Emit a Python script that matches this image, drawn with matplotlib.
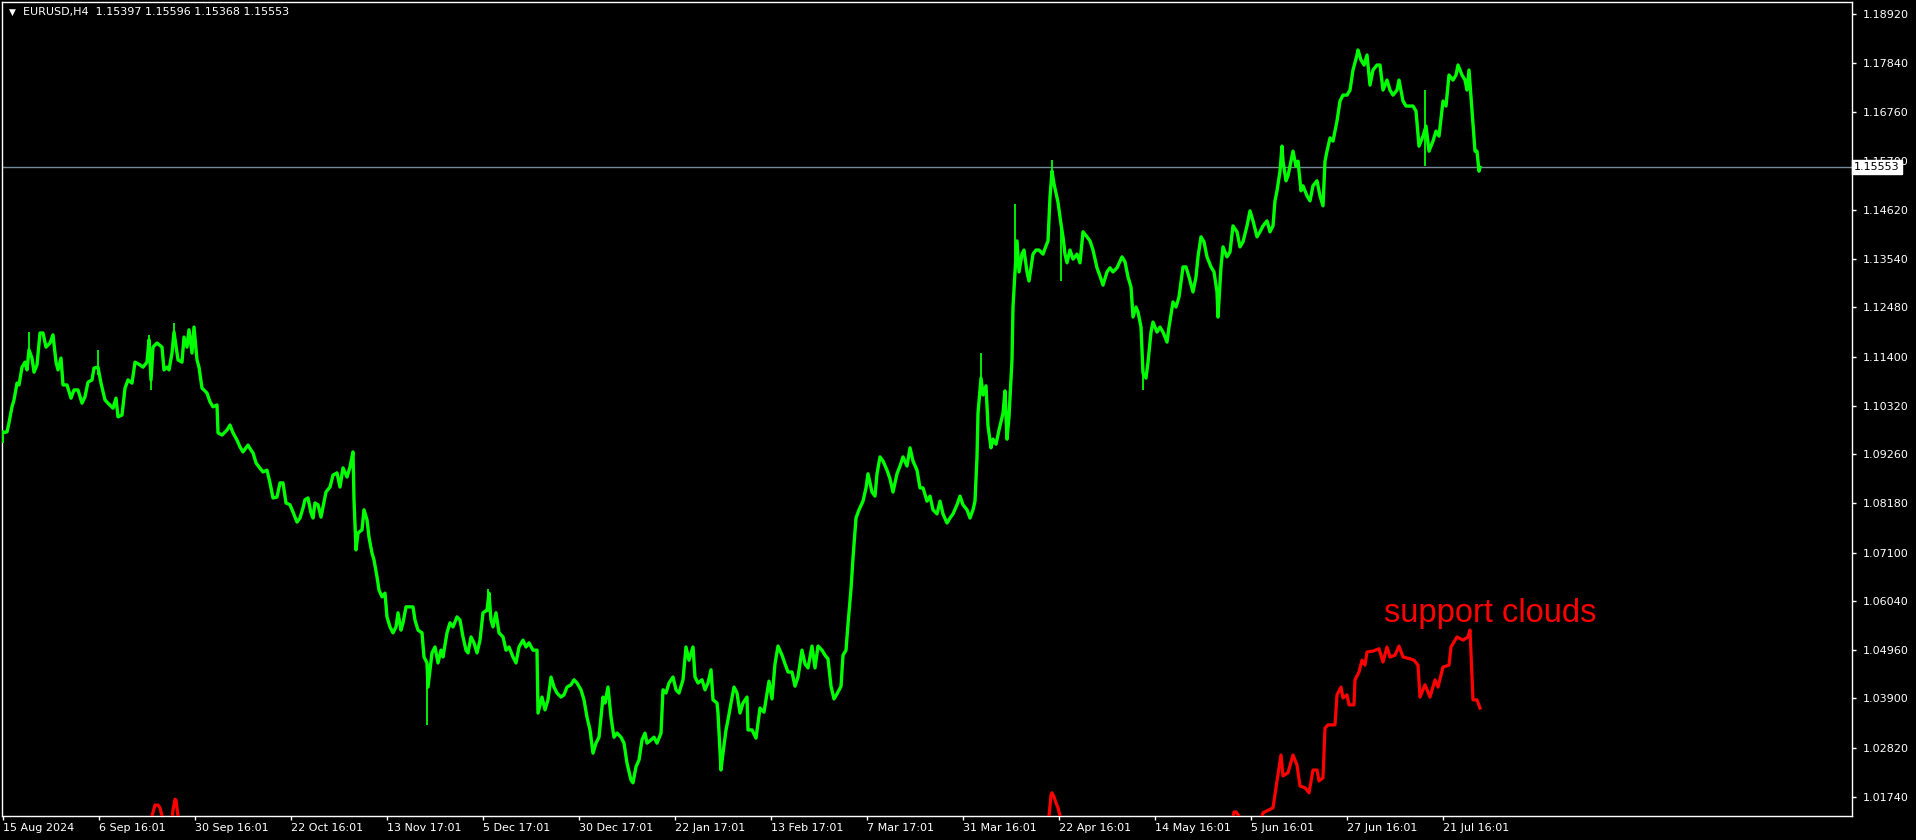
# EURUSD H4 chart with "support clouds" indicator (MT4 look)
import numpy as np
import matplotlib
matplotlib.use('Agg')
import matplotlib.pyplot as plt

# ---- data (bar index: 1 bar = one H4 candle) ----
green_bars = [
    0, 4, 6, 9, 11, 14, 16, 19, 22, 24,
    26, 29, 31, 34, 37, 40, 43, 47, 50, 53,
    55, 58, 60, 64, 68, 71, 75, 79, 82, 85,
    89, 91, 95, 98, 102, 105, 110, 113, 115, 119,
    122, 125, 129, 132, 137, 140, 144, 146, 148, 150,
    154, 159, 161, 164, 166, 169, 171, 175, 179, 181,
    184, 186, 189, 191, 194, 196, 199, 201, 204, 207,
    210, 214, 215, 219, 224, 227, 230, 234, 237, 240,
    245, 248, 250, 253, 256, 260, 264, 267, 270, 274,
    277, 280, 283, 287, 290, 294, 297, 300, 302, 305,
    308, 310, 312, 315, 318, 320, 323, 327, 330, 334,
    337, 340, 344, 347, 350, 351, 353, 355, 359, 361,
    364, 366, 369, 371, 374, 376, 379, 382, 384, 387,
    390, 393, 395, 398, 400, 403, 406, 410, 412, 415,
    419, 421, 424, 425, 429, 432, 435, 438, 440, 444,
    447, 450, 454, 457, 460, 463, 465, 468, 471, 474,
    477, 480, 484, 486, 488, 490, 493, 496, 500, 503,
    506, 510, 513, 516, 520, 523, 526, 530, 534, 535,
    539, 542, 545, 548, 551, 554, 558, 561, 564, 568,
    571, 574, 578, 581, 584, 587, 590, 593, 596, 600,
    602, 605, 608, 611, 614, 618, 621, 624, 628, 630,
    633, 636, 639, 642, 644, 648, 651, 654, 658, 660,
    663, 666, 670, 673, 676, 680, 683, 686, 690, 692,
    695, 699, 702, 705, 708, 710, 714, 715, 718, 720,
    723, 725, 728, 731, 734, 737, 740, 744, 745, 749,
    753, 757, 761, 764, 766, 769, 772, 775, 779, 782,
    785, 789, 792, 795, 799, 802, 805, 809, 812, 815,
    819, 822, 825, 828, 831, 834, 838, 840, 843, 845,
    848, 850, 853, 856, 860, 863, 865, 869, 872, 874,
    877, 880, 884, 887, 890, 894, 897, 900, 904, 907,
    910, 914, 917, 920, 924, 927, 930, 934, 937, 940,
    944, 947, 950, 954, 957, 960, 964, 967, 970, 972,
    974, 975, 978, 980, 983, 985, 988, 990, 993, 996,
    1000, 1002, 1004, 1006, 1009, 1010, 1012, 1014, 1016, 1019,
    1021, 1024, 1026, 1030, 1033, 1036, 1040, 1043, 1045, 1047,
    1049, 1051, 1053, 1055, 1058, 1060, 1062, 1064, 1067, 1070,
    1074, 1077, 1080, 1084, 1087, 1090, 1094, 1097, 1100, 1104,
    1107, 1110, 1114, 1119, 1122, 1125, 1128, 1130, 1133, 1135,
    1138, 1140, 1143, 1145, 1148, 1150, 1154, 1157, 1160, 1164,
    1166, 1170, 1173, 1176, 1180, 1183, 1186, 1190, 1193, 1195,
    1198, 1201, 1204, 1208, 1211, 1214, 1215, 1218, 1220, 1224,
    1227, 1230, 1234, 1237, 1240, 1244, 1247, 1250, 1254, 1257,
    1260, 1264, 1267, 1270, 1272, 1274, 1277, 1279, 1280, 1283,
    1285, 1288, 1290, 1293, 1295, 1298, 1300, 1304, 1307, 1310,
    1314, 1317, 1320, 1322, 1324, 1327, 1330, 1334, 1337, 1340,
    1344, 1347, 1350, 1354, 1355, 1358, 1361, 1364, 1367, 1370,
    1374, 1377, 1380, 1384, 1387, 1390, 1394, 1396, 1400, 1403,
    1406, 1410, 1413, 1416, 1420, 1423, 1426, 1430, 1433, 1436,
    1440, 1443, 1446, 1450, 1453, 1455, 1459, 1462, 1464, 1466,
    1469, 1470, 1472, 1474, 1476, 1477,
]
green_close = [
    1.0973, 1.0975, 1.0995, 1.1030, 1.1045, 1.1082, 1.1078, 1.1117, 1.1128, 1.1111,
    1.1155, 1.1137, 1.1106, 1.1122, 1.1192, 1.1192, 1.1161, 1.1170, 1.1188, 1.1128,
    1.1111, 1.1137, 1.1078, 1.1078, 1.1049, 1.1067, 1.1067, 1.1038, 1.1052, 1.1084,
    1.1089, 1.1115, 1.1117, 1.1082, 1.1045, 1.1038, 1.1027, 1.1049, 1.1008, 1.1012,
    1.1071, 1.1089, 1.1082, 1.1128, 1.1122, 1.1117, 1.1128, 1.1177, 1.1089, 1.1161,
    1.1170, 1.1161, 1.1111, 1.1117, 1.1111, 1.1148, 1.1194, 1.1133, 1.1128, 1.1183,
    1.1161, 1.1199, 1.1148, 1.1205, 1.1133, 1.1117, 1.1071, 1.1067, 1.1060, 1.1041,
    1.1030, 1.1034, 1.0973, 1.0968, 1.0979, 1.0990, 1.0973, 1.0957, 1.0942, 1.0931,
    1.0946, 1.0935, 1.0929, 1.0907, 1.0898, 1.0887, 1.0891, 1.0863, 1.0830, 1.0832,
    1.0863, 1.0863, 1.0819, 1.0815, 1.0799, 1.0777, 1.0786, 1.0808, 1.0826, 1.0830,
    1.0797, 1.0786, 1.0819, 1.0815, 1.0788, 1.0810, 1.0843, 1.0854, 1.0880, 1.0885,
    1.0854, 1.0896, 1.0876, 1.0898, 1.0931, 1.0826, 1.0716, 1.0753, 1.0760, 1.0804,
    1.0782, 1.0744, 1.0709, 1.0694, 1.0657, 1.0628, 1.0613, 1.0621, 1.0569, 1.0547,
    1.0534, 1.0547, 1.0578, 1.0540, 1.0556, 1.0591, 1.0591, 1.0591, 1.0562, 1.0540,
    1.0534, 1.0481, 1.0468, 1.0415, 1.0490, 1.0503, 1.0468, 1.0496, 1.0481, 1.0534,
    1.0556, 1.0547, 1.0569, 1.0562, 1.0525, 1.0496, 1.0490, 1.0525, 1.0512, 1.0490,
    1.0518, 1.0578, 1.0584, 1.0621, 1.0562, 1.0547, 1.0578, 1.0534, 1.0525, 1.0496,
    1.0503, 1.0481, 1.0468, 1.0503, 1.0518, 1.0503, 1.0512, 1.0496, 1.0496, 1.0358,
    1.0393, 1.0365, 1.0387, 1.0437, 1.0415, 1.0402, 1.0393, 1.0398, 1.0415, 1.0420,
    1.0431, 1.0424, 1.0409, 1.0387, 1.0349, 1.0321, 1.0270, 1.0292, 1.0305, 1.0393,
    1.0380, 1.0415, 1.0349, 1.0305, 1.0314, 1.0305, 1.0292, 1.0248, 1.0211, 1.0205,
    1.0240, 1.0255, 1.0299, 1.0314, 1.0292, 1.0299, 1.0305, 1.0292, 1.0314, 1.0409,
    1.0402, 1.0424, 1.0437, 1.0409, 1.0402, 1.0431, 1.0503, 1.0474, 1.0503, 1.0437,
    1.0424, 1.0431, 1.0409, 1.0424, 1.0453, 1.0387, 1.0380, 1.0358, 1.0233, 1.0270,
    1.0321, 1.0343, 1.0380, 1.0415, 1.0402, 1.0358, 1.0380, 1.0393, 1.0321, 1.0321,
    1.0303, 1.0369, 1.0360, 1.0400, 1.0428, 1.0389, 1.0466, 1.0505, 1.0485, 1.0466,
    1.0448, 1.0448, 1.0417, 1.0437, 1.0496, 1.0466, 1.0457, 1.0505, 1.0457, 1.0505,
    1.0496, 1.0485, 1.0477, 1.0417, 1.0389, 1.0400, 1.0417, 1.0485, 1.0496, 1.0553,
    1.0630, 1.0698, 1.0786, 1.0804, 1.0823, 1.0852, 1.0883, 1.0843, 1.0834, 1.0883,
    1.0920, 1.0911, 1.0891, 1.0872, 1.0843, 1.0883, 1.0900, 1.0920, 1.0900, 1.0940,
    1.0911, 1.0891, 1.0852, 1.0852, 1.0823, 1.0834, 1.0804, 1.0795, 1.0823, 1.0795,
    1.0775, 1.0786, 1.0795, 1.0815, 1.0834, 1.0815, 1.0804, 1.0786, 1.0804, 1.0823,
    1.0920, 1.1016, 1.1093, 1.1056, 1.1076, 1.0988, 1.0940, 1.0959, 1.0948, 1.0979,
    1.1016, 1.1065, 1.0959, 1.1008, 1.1133, 1.1249, 1.1326, 1.1394, 1.1326, 1.1365,
    1.1374, 1.1326, 1.1306, 1.1365, 1.1374, 1.1374, 1.1365, 1.1383, 1.1394, 1.1490,
    1.1547, 1.1519, 1.1499, 1.1479, 1.1431, 1.1403, 1.1365, 1.1346, 1.1374, 1.1354,
    1.1365, 1.1346, 1.1414, 1.1403, 1.1394, 1.1374, 1.1335, 1.1317, 1.1297, 1.1326,
    1.1335, 1.1326, 1.1335, 1.1359, 1.1348, 1.1315, 1.1293, 1.1227, 1.1249, 1.1238,
    1.1205, 1.1104, 1.1093, 1.1128, 1.1194, 1.1216, 1.1194, 1.1205, 1.1194, 1.1172,
    1.1205, 1.1260, 1.1249, 1.1271, 1.1337, 1.1337, 1.1315, 1.1282, 1.1315, 1.1359,
    1.1403, 1.1392, 1.1359, 1.1337, 1.1326, 1.1282, 1.1227, 1.1337, 1.1381, 1.1359,
    1.1370, 1.1427, 1.1414, 1.1381, 1.1392, 1.1427, 1.1460, 1.1438, 1.1403, 1.1414,
    1.1427, 1.1438, 1.1414, 1.1427, 1.1482, 1.1504, 1.1547, 1.1602, 1.1569, 1.1526,
    1.1537, 1.1569, 1.1591, 1.1558, 1.1569, 1.1504, 1.1515, 1.1493, 1.1482, 1.1515,
    1.1526, 1.1493, 1.1471, 1.1569, 1.1591, 1.1620, 1.1613, 1.1657, 1.1701, 1.1714,
    1.1714, 1.1725, 1.1769, 1.1802, 1.1813, 1.1791, 1.1780, 1.1802, 1.1736, 1.1769,
    1.1780, 1.1780, 1.1725, 1.1747, 1.1725, 1.1714, 1.1725, 1.1747, 1.1701, 1.1690,
    1.1690, 1.1690, 1.1679, 1.1602, 1.1624, 1.1646, 1.1591, 1.1613, 1.1635, 1.1624,
    1.1701, 1.1690, 1.1758, 1.1747, 1.1758, 1.1780, 1.1758, 1.1747, 1.1725, 1.1769,
    1.1679, 1.1646, 1.1591, 1.1591, 1.1547, 1.15553,
]
assert len(green_bars) == len(green_close)

# single long wicks that stick out of the price band
wick_bars = [0, 26, 95, 146, 148, 171, 424, 485, 978, 1012, 1049, 1058, 1140, 1422]
wick_lo = [1.0951, 1.1140, 1.1100, 1.1150, 1.1067, 1.1180, 1.0332, 1.0580, 1.1060, 1.1300, 1.1520, 1.1306, 1.1067, 1.1558]
wick_hi = [1.0980, 1.1195, 1.1155, 1.1187, 1.1120, 1.1214, 1.0470, 1.0630, 1.1148, 1.1475, 1.1572, 1.1440, 1.1120, 1.1725]

# support clouds indicator (parts below the window are clipped)
red_bars_a = [147, 149, 152, 155, 157, 159, 161, 168, 170, 172, 173, 175, 177]
red_vals_a = [1.0100, 1.0132, 1.0156, 1.0156, 1.0150, 1.0132, 1.0100, 1.0100, 1.0145, 1.0169, 1.0167, 1.0132, 1.0100]
red_bars_b = [1044, 1046, 1048, 1049, 1051, 1053, 1055, 1057, 1059]
red_vals_b = [1.0100, 1.0132, 1.0178, 1.0183, 1.0174, 1.0161, 1.0150, 1.0132, 1.0100]
red_bars_c = [
    1228, 1231, 1233, 1236, 1238, 1255, 1260, 1270, 1274, 1278,
    1280, 1285, 1290, 1294, 1297, 1302, 1306, 1310, 1314, 1316,
    1320, 1322, 1325, 1332, 1334, 1338, 1340, 1344, 1346, 1351,
    1352, 1356, 1359, 1362, 1364, 1370, 1376, 1380, 1384, 1387,
    1392, 1396, 1400, 1407, 1411, 1415, 1417, 1422, 1427, 1432,
    1435, 1440, 1446, 1448, 1454, 1460, 1465, 1467, 1470, 1474,
    1477,
]
red_vals_c = [
    1.0100, 1.0141, 1.0141, 1.0132, 1.0100, 1.0100, 1.0139, 1.0150, 1.0209, 1.0266,
    1.0220, 1.0227, 1.0266, 1.0244, 1.0198, 1.0194, 1.0183, 1.0233, 1.0233, 1.0209,
    1.0216, 1.0325, 1.0332, 1.0332, 1.0398, 1.0415, 1.0391, 1.0398, 1.0376, 1.0376,
    1.0431, 1.0448, 1.0474, 1.0463, 1.0492, 1.0494, 1.0499, 1.0470, 1.0503, 1.0481,
    1.0485, 1.0505, 1.0481, 1.0477, 1.0474, 1.0463, 1.0393, 1.0420, 1.0393, 1.0431,
    1.0415, 1.0459, 1.0463, 1.0503, 1.0525, 1.0518, 1.0525, 1.0540, 1.0387, 1.0387,
    1.0369,
]

price_ticks = [1.18920, 1.17840, 1.16760, 1.15700, 1.14620, 1.13540, 1.12480, 1.11400, 1.10320,
               1.09260, 1.08180, 1.07100, 1.06040, 1.04960, 1.03900, 1.02820, 1.01740]
date_bars = [0, 96, 192, 288, 384, 480, 576, 672, 768, 864, 960, 1056, 1152, 1248, 1344, 1440]
date_labels = ["15 Aug 2024", "6 Sep 16:01", "30 Sep 16:01", "22 Oct 16:01", "13 Nov 17:01",
               "5 Dec 17:01", "30 Dec 17:01", "22 Jan 17:01", "13 Feb 17:01", "7 Mar 17:01",
               "31 Mar 16:01", "22 Apr 16:01", "14 May 16:01", "5 Jun 16:01", "27 Jun 16:01",
               "21 Jul 16:01"]
last_price = 1.15553
header = "EURUSD,H4  1.15397 1.15596 1.15368 1.15553"

# ---- figure ----
W, H = 1916, 840
fig = plt.figure(figsize=(W / 100, H / 100), dpi=100, facecolor='black')
ax = fig.add_axes([2 / W, 24 / H, 1850 / W, 814 / H], facecolor='black')

ax.plot(green_bars, green_close, color='#00ff00', lw=2.4, zorder=3)
ax.vlines(wick_bars, wick_lo, wick_hi, color='#00ff00', lw=1.3, zorder=3)

for b, v in [(red_bars_a, red_vals_a), (red_bars_b, red_vals_b), (red_bars_c, red_vals_c)]:
    ax.plot(b, v, color='#ff0000', lw=2.3, zorder=4, solid_joinstyle='round')

ax.axhline(last_price, color='#778899', lw=1, zorder=2)

ax.text(1381, 1.0558, 'support clouds', color='#ff0000', fontsize=23.5,
        family='Liberation Sans', va='baseline', ha='left')

ax.set_xlim(-1, 1849)
ax.set_ylim(1.01321, 1.19183)

for s in ax.spines.values():
    s.set_color('white')
    s.set_linewidth(1)

ax.yaxis.tick_right()
ax.set_yticks(price_ticks)
ax.set_yticklabels(['%.5f' % p for p in price_ticks])
ax.set_xticks(date_bars)
ax.set_xticklabels(date_labels)
ax.tick_params(axis='both', colors='white', labelcolor='white', length=3, width=1, labelsize=8)
ax.tick_params(axis='y', pad=5)
ax.tick_params(axis='x', pad=2)
plt.setp(ax.get_xticklabels(), ha='left')

# last price tag on the scale (covers the 1.15700 label like the terminal does)
ax.text(1.0012, last_price, '%.5f' % last_price, transform=ax.get_yaxis_transform(),
        ha='left', va='center', fontsize=8, color='black', zorder=10, clip_on=False,
        bbox=dict(boxstyle='square,pad=0.18', fc='white', ec='white'))

# header line
ax.text(7 / 1850, 1 - 10 / 814, '\u25bc', transform=ax.transAxes, color='white',
        fontsize=6.5, va='center', ha='left')
ax.text(21 / 1850, 1 - 10 / 814, header, transform=ax.transAxes, color='white',
        fontsize=8, va='center', ha='left')

fig.savefig('out.png', dpi=100, facecolor='black')
